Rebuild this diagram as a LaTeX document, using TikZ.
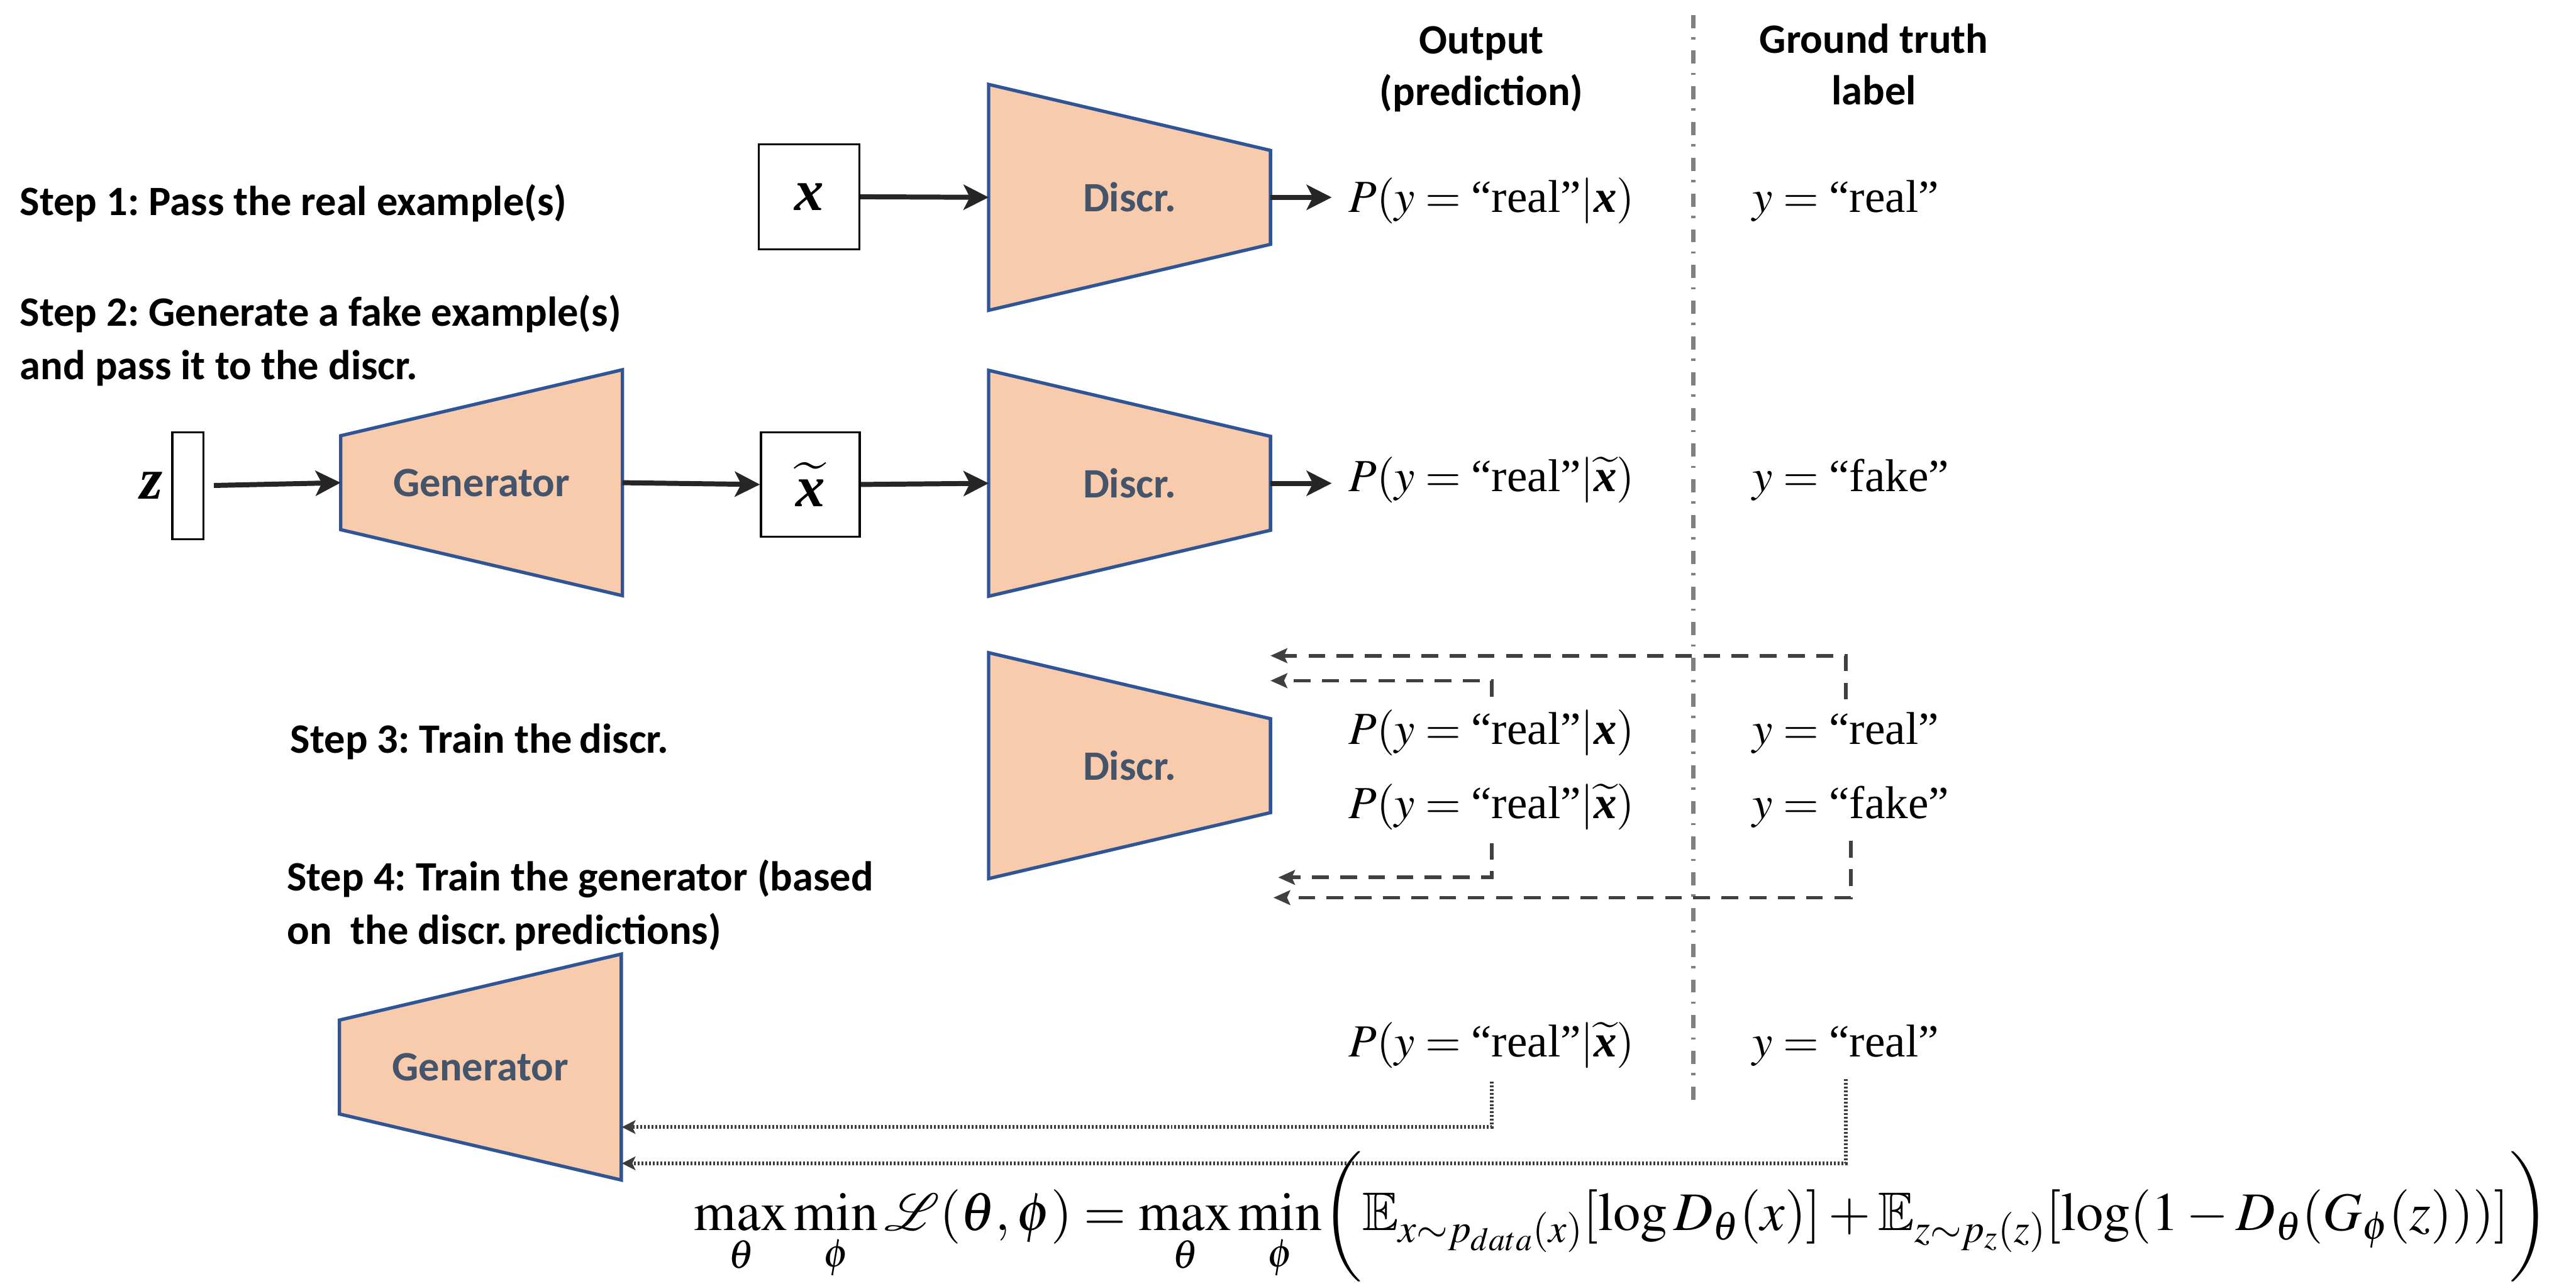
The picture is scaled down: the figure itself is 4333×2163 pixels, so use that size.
\documentclass[tikz,border=0pt]{standalone}
\usepackage{amsmath,amssymb}
\usepackage{mathptmx}
\usepackage{mathrsfs}
\usepackage[no-math]{fontspec}
\setmainfont{Liberation Serif}
\newfontfamily\carlito{Carlito}
\usetikzlibrary{arrows.meta}

% bold italic sample variables
\newcommand{\smpx}{\text{\bfseries\itshape x}}
\newcommand{\smpz}{\text{\bfseries\itshape z}}

\definecolor{peach}{HTML}{F8CBAD}
\definecolor{netblue}{HTML}{2F5597}
\definecolor{slate}{HTML}{44546A}
\definecolor{inkdark}{HTML}{262626}
\definecolor{loopgray}{HTML}{404040}
\definecolor{rulegray}{HTML}{808080}

\tikzset{
  netshape/.style={draw=netblue, fill=peach, line width=1.6pt, line join=miter},
  netlabel/.style={font=\carlito\bfseries\fontsize{20}{24}\selectfont, text=slate, inner sep=0pt},
  discr/.pic={
    \path[netshape] (-237,-190) -- (237,-79) -- (237,79) -- (-237,190) -- cycle;
    \node[netlabel] (-label) at (0,0) {Discr.};
    \coordinate (-in) at (-237,0);
    \coordinate (-out) at (237,0);
  },
  gen/.pic={
    \path[netshape] (-237,-79) -- (237,-190) -- (237,190) -- (-237,79) -- cycle;
    \node[netlabel] (-label) at (0,0) {Generator};
    \coordinate (-in) at (-237,0);
    \coordinate (-out) at (237,0);
  },
  databox/.style={draw=black, fill=white, line width=1pt, inner sep=0pt,
    font=\fontsize{28}{32}\selectfont},
  flow/.style={draw=inkdark, line width=2.4pt,
    -{Stealth[length=12pt,width=12pt,inset=3pt]}},
  fbloop/.style={draw=loopgray, line width=1.7pt, dash pattern=on 8pt off 5.5pt,
    -{Stealth[length=8pt,width=7pt,inset=1.5pt]}},
  gradpath/.style={draw=inkdark!90, line width=1.9pt, dash pattern=on 0.9pt off 0.9pt,
    -{Stealth[length=6.5pt,width=6.5pt,inset=1.5pt]}},
  divider/.style={draw=rulegray, line width=2pt,
    dash pattern=on 6.3pt off 4.3pt on 1.1pt off 5.4pt},
  steptext/.style={font=\carlito\bfseries\fontsize{20}{25.6}\selectfont,
    inner sep=0pt, align=left},
  headtext/.style={font=\carlito\bfseries\fontsize{20}{24.7}\selectfont,
    inner sep=0pt, align=center, anchor=north},
  coltext/.style={font=\fontsize{22}{26}\selectfont, inner xsep=8pt,
    inner ysep=6pt, anchor=base west},
}

\begin{document}
\frenchspacing
\begin{tikzpicture}[x=0.1mm, y=-0.1mm]
\useasboundingbox (0,0) rectangle (4333,2163);

% column headers and the divider between them
\node[headtext] (hout) at (2492,44) {Output\\(prediction)};
\node[headtext] (hgt) at (3152,39) {Ground truth\\label};
\draw[divider] (2848,25) -- (2848,1860);

% step captions
\node[steptext, anchor=base west] (s1) at (33,362) {Step 1: Pass the real example(s)};
\node[steptext, anchor=north west] (s2) at (33,496)
  {Step 2: Generate a fake example(s)\\and pass it to the discr.};
\node[steptext, anchor=base west] (s3) at (488,1267) {Step 3: Train the\,discr.};
\node[steptext, anchor=north west] (s4) at (482,1446)
  {Step 4: Train the generator (based\\on\ \ the discr.\,predictions)};

% step 1: real example through the discriminator
\node[databox, minimum width=16.9mm, minimum height=17.7mm] (xbox) at (1361,331)
  {$\smpx$};
\pic (d1) at (1900,332) {discr};
\node[coltext] (p1) at (2240,357) {$P(y=\text{“real”}|\smpx)$};
\node[coltext] (y1) at (2919,357) {$y=\text{“real”}$};
\draw[flow] (xbox.east) -- (d1-in);
\draw[flow] (d1-out) -- (d1-out -| p1.west);

% step 2: noise -> generator -> fake example -> discriminator
\node[inner sep=0pt, font=\fontsize{28}{32}\selectfont] (zlab) at (255,817) {$\smpz$};
\node[databox, minimum width=5.2mm, minimum height=18mm] (zbox) at (316,817) {};
\pic (g2) at (810,812) {gen};
\node[databox, minimum width=16.6mm, minimum height=17.6mm] (xtbox) at (1363,815)
  {$\widetilde{\smpx}$};
\pic (d2) at (1900,813) {discr};
\node[coltext] (p2) at (2240,827) {$P(y=\text{“real”}|\widetilde{\smpx})$};
\node[coltext] (y2) at (2919,827) {$y=\text{“fake”}$};
\draw[flow, shorten <=1.6mm] (zbox.east) -- (g2-in);
\draw[flow] (g2-out) -- (xtbox.west);
\draw[flow] (xtbox.east) -- (d2-in);
\draw[flow] (d2-out) -- (d2-out -| p2.west);

% step 3: discriminator update from both predictions
\pic (d3) at (1900,1288) {discr};
\node[coltext] (p3a) at (2240,1252) {$P(y=\text{“real”}|\smpx)$};
\node[coltext] (y3a) at (2919,1252) {$y=\text{“real”}$};
\node[coltext] (p3b) at (2240,1377) {$P(y=\text{“real”}|\widetilde{\smpx})$};
\node[coltext] (y3b) at (2919,1377) {$y=\text{“fake”}$};
\coordinate (t3a) at (2137,1103);
\coordinate (t3b) at (2137,1145);
\coordinate (t3c) at (2150,1476);
\coordinate (t3d) at (2142,1510);
\draw[fbloop] (y3a.north) |- (t3a);
\draw[fbloop] (p3a.north) |- (t3b);
\draw[fbloop] (p3b.south) |- (t3c);
\draw[fbloop] (y3b.south) |- (t3d);

% step 4: generator update from the discriminator's prediction
\pic (g4) at (808,1795) {gen};
\node[coltext] (p4) at (2240,1778) {$P(y=\text{“real”}|\widetilde{\smpx})$};
\node[coltext] (y4) at (2919,1778) {$y=\text{“real”}$};
\coordinate (t4a) at (1046,1896);
\coordinate (t4b) at (1046,1957);
\draw[gradpath] (p4.south) |- (t4a);
\draw[gradpath] (y4.south) |- (t4b);

% minimax objective
\node[inner sep=0pt, anchor=base, font=\fontsize{26}{30}\selectfont] (obj) at (2728,2070)
  {$\displaystyle \max_{\theta}\min_{\phi}\mathscr{L}(\theta,\phi)
   =\max_{\theta}\min_{\phi}\biggl(\mathbb{E}_{x\sim p_{data}(x)}[\log D_{\theta}(x)]
   +\mathbb{E}_{z\sim p_{z}(z)}[\log(1-D_{\theta}(G_{\phi}(z)))]\biggr)$};
\end{tikzpicture}
\end{document}
